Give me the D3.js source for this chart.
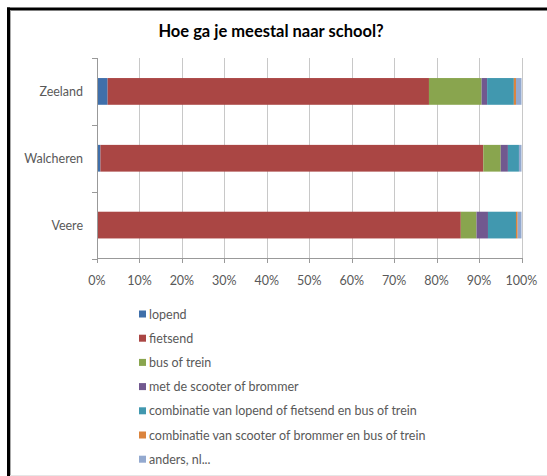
<!DOCTYPE html>
<html><head><meta charset="utf-8">
<script src="https://cdn.jsdelivr.net/npm/d3@7"></script>
<style>body{margin:0;background:#fff;} text{font-family:Lato,"Open Sans",sans-serif;}</style>
</head><body>
<svg id="c" width="547" height="476"></svg>
<script>
const categories = ["Zeeland","Walcheren","Veere"];
const seriesNames = ["lopend","fietsend","bus of trein","met de scooter of brommer",
  "combinatie van lopend of fietsend en bus of trein",
  "combinatie van scooter of brommer en bus of trein","anders, nl..."];
const seriesColors = ["#3F6FAA","#AA4644","#89A54E","#71588F","#4198AF","#DB843D","#93A9CF"];
const zeeland   = [2.5, 75.7, 12.4, 1.3, 6.3, 0.5, 1.3];
const walcheren = [0.8, 90.2, 4.1, 1.7, 2.6, 0.0, 0.6];
const veere     = [0.0, 85.7, 3.7, 2.7, 6.6, 0.4, 0.9];
const rows = [zeeland, walcheren, veere];
const tickValues = [0,10,20,30,40,50,60,70,80,90,100];

const svg = d3.select("#c");
// frame
svg.append("rect").attr("x",0).attr("y",0).attr("width",547).attr("height",476).attr("fill","#fff");
svg.append("line").attr("x1",8.5).attr("x2",8.5).attr("y1",7.5).attr("y2",476).attr("stroke","#000").attr("stroke-width",3);
svg.append("line").attr("x1",7).attr("x2",547).attr("y1",9).attr("y2",9).attr("stroke","#000").attr("stroke-width",3);
svg.append("line").attr("x1",10.5).attr("x2",10.5).attr("y1",10.5).attr("y2",476).attr("stroke","#aaa").attr("stroke-width",1);
svg.append("line").attr("x1",10).attr("x2",547).attr("y1",475.5).attr("y2",475.5).attr("stroke","#e6e6e6").attr("stroke-width",1);

svg.append("text").attr("x",271).attr("y",37).attr("text-anchor","middle")
  .attr("font-size",16.5).attr("font-weight","bold").attr("fill","#000").text("Hoe ga je meestal naar school?");

const x = d3.scaleLinear().domain([0,100]).range([97,521.5]);
const y = d3.scaleBand().domain(categories).range([58,258.5]).paddingInner(0.6).paddingOuter(0.3);

// gridlines
svg.append("g").selectAll("line").data(tickValues).join("line")
  .attr("x1",d=>Math.round(x(d))+0.5).attr("x2",d=>Math.round(x(d))+0.5)
  .attr("y1",58).attr("y2",258.5).attr("stroke","#c8c8c8");

// bars
const stacks = rows.map((r,i)=>{let acc=0; return r.map((v,j)=>{const s={cat:categories[i],x0:acc,x1:acc+v,j}; acc+=v; return s;});}).flat();
svg.append("g").selectAll("rect").data(stacks.filter(d=>d.x1>d.x0)).join("rect")
  .attr("x",d=>x(d.x0)).attr("width",d=>x(d.x1)-x(d.x0))
  .attr("y",d=>y(d.cat)).attr("height",y.bandwidth())
  .attr("fill",d=>seriesColors[d.j]);

// y axis
svg.append("line").attr("x1",97.5).attr("x2",97.5).attr("y1",58).attr("y2",259).attr("stroke","#999");
const bounds = [58,125,192,258.5];
svg.append("g").selectAll("line").data(bounds).join("line")
  .attr("x1",92).attr("x2",97).attr("y1",d=>Math.round(d)+0.5).attr("y2",d=>Math.round(d)+0.5).attr("stroke","#999");
svg.append("g").selectAll("text").data(categories).join("text")
  .attr("x",83).attr("y",d=>y(d)+y.bandwidth()/2+4.5).attr("text-anchor","end")
  .attr("font-size",12.5).attr("fill","#595959").text(d=>d);

// x axis
svg.append("line").attr("x1",97).attr("x2",522).attr("y1",258.5).attr("y2",258.5).attr("stroke","#999");
svg.append("g").selectAll("line").data(tickValues).join("line")
  .attr("x1",d=>Math.round(x(d))+0.5).attr("x2",d=>Math.round(x(d))+0.5)
  .attr("y1",258).attr("y2",263).attr("stroke","#999");
svg.append("g").selectAll("text").data(tickValues).join("text")
  .attr("x",d=>x(d)).attr("y",284.5).attr("text-anchor","middle")
  .attr("font-size",12.5).attr("fill","#595959").text(d=>d+"%");

// legend
const lg = svg.append("g").selectAll("g").data(seriesNames).join("g")
  .attr("transform",(d,i)=>`translate(139,${314+i*24.2})`);
lg.append("rect").attr("x",0).attr("y",-3.5).attr("width",7).attr("height",7).attr("fill",(d,i)=>seriesColors[i]);
lg.append("text").attr("x",10).attr("y",4.5).attr("font-size",12.5).attr("fill","#595959").text(d=>d);
</script>
</body></html>
